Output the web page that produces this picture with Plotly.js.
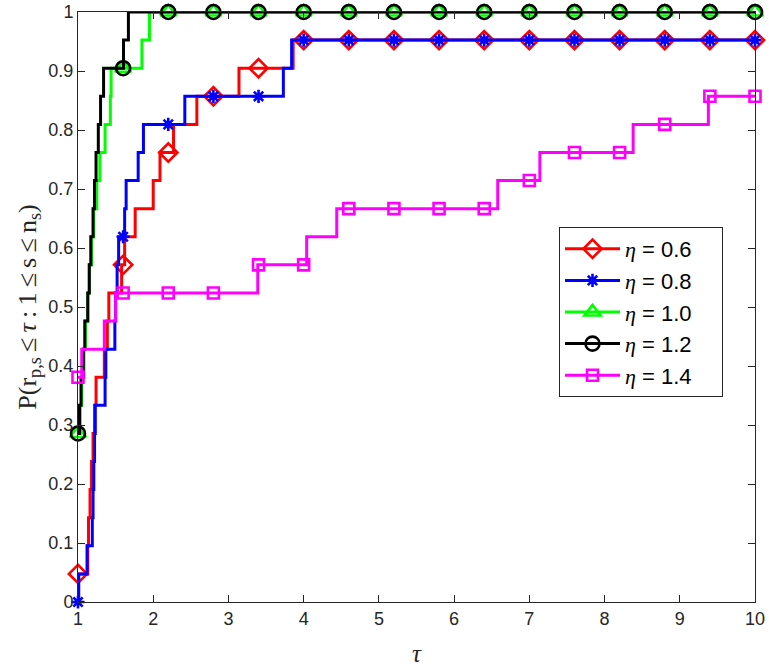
<!DOCTYPE html>
<html>
<head>
<meta charset="utf-8">
<script src="https://cdn.plot.ly/plotly-3.0.1.min.js"></script>
<style>html,body{margin:0;padding:0;background:#fff}#chart{width:769px;height:669px}</style>
</head>
<body>
<div id="chart"></div>
<script>
// number of test problems (profile values are counts / nProblems)
const nProblems = 21;

// tau values at which markers are shown
const markerTau = [1, 1.6, 2.2, 2.8, 3.4, 4.0, 4.6, 5.2, 5.8, 6.4, 7.0, 7.6, 8.2, 8.8, 9.4, 10];

// eta = 0.6
const tauEta06 = [1.00, 1.13, 1.14, 1.16, 1.18, 1.20, 1.22, 1.24, 1.35, 1.39, 1.41, 1.58, 1.62, 1.76, 2.00, 2.09, 2.27, 2.58, 3.14, 3.86, 10];
const cntEta06 = [1, 2, 3, 4, 5, 6, 7, 8, 9, 10, 11, 12, 13, 14, 15, 16, 17, 18, 19, 20, 20];

// eta = 0.8
const tauEta08 = [1.00, 1.01, 1.12, 1.19, 1.20, 1.21, 1.22, 1.23, 1.36, 1.37, 1.49, 1.50, 1.52, 1.54, 1.62, 1.64, 1.80, 1.87, 2.42, 3.73, 3.84, 10];
const cntEta08 = [0, 1, 2, 3, 4, 5, 6, 7, 8, 9, 10, 11, 12, 13, 14, 15, 16, 17, 18, 19, 20, 20];

// eta = 1.0
const tauEta10 = [1.00, 1.03, 1.05, 1.08, 1.10, 1.13, 1.15, 1.18, 1.21, 1.25, 1.29, 1.36, 1.43, 1.44, 1.85, 1.95, 10];
const cntEta10 = [6, 7, 8, 9, 10, 11, 12, 13, 14, 15, 16, 17, 18, 19, 20, 21, 21];

// eta = 1.2
const tauEta12 = [1.00, 1.02, 1.04, 1.07, 1.09, 1.13, 1.15, 1.17, 1.20, 1.22, 1.24, 1.27, 1.30, 1.34, 1.605, 1.67, 10];
const cntEta12 = [6, 7, 8, 9, 10, 11, 12, 13, 14, 15, 16, 17, 18, 19, 20, 21, 21];

// eta = 1.4
const tauEta14 = [1.00, 1.05, 1.35, 1.50, 3.39, 4.04, 4.44, 6.58, 7.14, 8.38, 9.38, 10];
const cntEta14 = [8, 9, 10, 11, 12, 13, 14, 15, 16, 17, 18, 18];

const xTickVals = [1, 2, 3, 4, 5, 6, 7, 8, 9, 10];
const yTickVals = [0, 0.1, 0.2, 0.3, 0.4, 0.5, 0.6, 0.7, 0.8, 0.9, 1];
const yTickText = ['0', '0.1', '0.2', '0.3', '0.4', '0.5', '0.6', '0.7', '0.8', '0.9', '1'];

const seriesDefs = [
  {tau: tauEta06, cnt: cntEta06, label: '0.6', color: '#ff0000', symbol: 'diamond-open', size: 14},
  {tau: tauEta08, cnt: cntEta08, label: '0.8', color: '#0000ff', symbol: 'asterisk-open', size: 11},
  {tau: tauEta10, cnt: cntEta10, label: '1.0', color: '#00ff00', symbol: 'triangle-up-open', size: 14},
  {tau: tauEta12, cnt: cntEta12, label: '1.2', color: '#000000', symbol: 'circle-open', size: 14},
  {tau: tauEta14, cnt: cntEta14, label: '1.4', color: '#ff00ff', symbol: 'square-open', size: 11}
];

function stepValue(tau, cnt, t) {
  let v = cnt[0];
  for (let i = 0; i < tau.length; i++) { if (tau[i] <= t + 1e-9) v = cnt[i]; }
  return v / nProblems;
}

const etaSpan = '<span style="font-family:\'Liberation Serif\',\'DejaVu Serif\',serif;font-style:italic">η</span>';
const traces = [];
seriesDefs.forEach(s => {
  traces.push({
    x: s.tau, y: s.cnt.map(c => c / nProblems), mode: 'lines', type: 'scatter',
    line: {color: s.color, width: 3, shape: 'hv'}, showlegend: false, hoverinfo: 'skip'
  });
  traces.push({
    x: markerTau, y: markerTau.map(t => stepValue(s.tau, s.cnt, t)), mode: 'markers', type: 'scatter',
    marker: {symbol: s.symbol, size: s.size, color: s.color, line: {color: s.color, width: 2.6}},
    cliponaxis: false, showlegend: false
  });
  traces.push({
    x: [null], y: [null], mode: 'lines+markers', type: 'scatter',
    name: etaSpan + ' = ' + s.label + '\u00a0\u00a0\u00a0\u00a0',
    line: {color: s.color, width: 3},
    marker: {symbol: s.symbol, size: s.size, color: s.color, line: {color: s.color, width: 2.6}},
    showlegend: true
  });
});

const axisCommon = {
  showgrid: false, zeroline: false, showline: true, mirror: 'ticks',
  linecolor: '#262626', linewidth: 1, ticks: 'inside', ticklen: 7, tickcolor: '#262626', tickwidth: 1,
  tickfont: {family: 'Liberation Sans, Arial, sans-serif', size: 18, color: '#262626'}
};

const layout = {
  width: 769, height: 669,
  margin: {l: 78, r: 14, t: 12, b: 67},
  paper_bgcolor: '#ffffff', plot_bgcolor: '#ffffff',
  showlegend: true,
  xaxis: Object.assign({}, axisCommon, {
    range: [1, 10], tickvals: xTickVals, ticktext: xTickVals.map(String),
    title: {text: '<i>τ</i>', font: {family: 'Liberation Serif, serif', size: 25, color: '#262626'}, standoff: 16}
  }),
  yaxis: Object.assign({}, axisCommon, {
    range: [0, 1], tickvals: yTickVals, ticktext: yTickText,
    title: {text: 'P(r<sub>p,s</sub>\u2009≤\u2009<i>τ</i>\u2009:\u20091\u2009≤\u2009s\u2009≤\u2009n<sub>s</sub>)', font: {family: 'Liberation Serif, serif', size: 26, color: '#262626'}, standoff: 4}
  }),
  legend: {
    x: 0.7105, y: 0.6356, xanchor: 'left', yanchor: 'top',
    bgcolor: '#ffffff', bordercolor: '#262626', borderwidth: 1,
    font: {family: 'Liberation Sans, Arial, sans-serif', size: 22, color: '#000000'},
    itemsizing: 'trace', itemwidth: 55
  }
};

Plotly.newPlot('chart', traces, layout, {displayModeBar: false, staticPlot: true});
</script>
</body>
</html>
